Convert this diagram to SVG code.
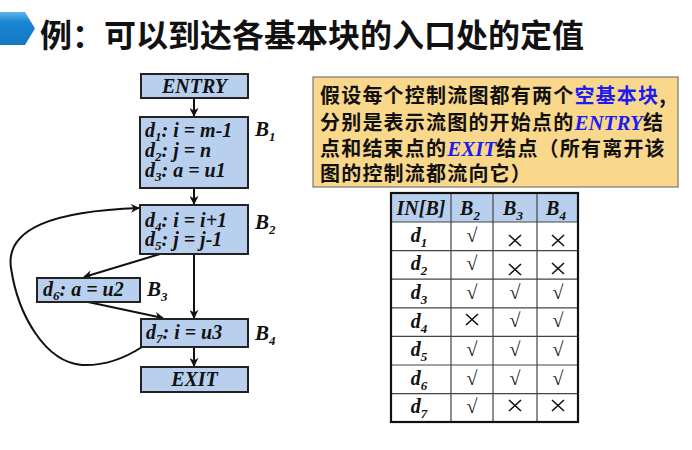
<svg xmlns="http://www.w3.org/2000/svg" width="692" height="450" viewBox="0 0 692 450">
<defs>
<marker id="ah" viewBox="0 0 10 10" refX="9" refY="5" markerWidth="9" markerHeight="9" markerUnits="userSpaceOnUse" orient="auto"><path d="M0,0 L10,5 L0,10 L3,5 Z" fill="#111"/></marker>
<linearGradient id="tg" x1="0" y1="0" x2="0" y2="1"><stop offset="0" stop-color="#5fb4ec"/><stop offset="0.3" stop-color="#1a86d4"/><stop offset="1" stop-color="#1477c2"/></linearGradient>
</defs>
<style>
.box{fill:#b8d0ee;stroke:#222;stroke-width:2}
.ct{font-family:"Liberation Serif",serif;font-weight:bold;font-style:italic;font-size:20px;fill:#111}
.lb{font-family:"Liberation Serif",serif;font-weight:bold;font-style:italic;font-size:21px;fill:#111}
.sb{font-size:13px}
.ed{fill:none;stroke:#111;stroke-width:2;marker-end:url(#ah)}
.cn{font-family:"Noto Sans CJK SC",sans-serif;font-weight:bold;font-size:20px;letter-spacing:1.2px;fill:#111}
.bl{fill:#1c1cf0}
.en{font-family:"Liberation Serif",serif;font-style:italic;font-weight:bold;fill:#1c1cf0;font-size:21px;letter-spacing:0}
.th{font-family:"Liberation Serif",serif;font-weight:bold;font-style:italic;font-size:20px;fill:#111}
.ck{font-family:"Liberation Serif",serif;font-size:20px;fill:#111}
.x{stroke:#111;stroke-width:1.6}
.gl{stroke:#444;stroke-width:1.2}
</style>
<rect width="692" height="450" fill="#fff"/>
<g id="title">
<path d="M0,12 L25,12 L35,28.5 L25,45 L0,45 Z" fill="url(#tg)"/>
<text x="40" y="47" font-family="Noto Sans CJK SC, sans-serif" font-weight="bold" font-size="32" fill="#111">例：可以到达各基本块的入口处的定值</text>
</g>
<g id="connectors">
<line class="ed" x1="194" y1="98" x2="194" y2="116"/>
<line class="ed" x1="194" y1="188" x2="194" y2="204"/>
<line class="ed" x1="194" y1="254" x2="194" y2="318"/>
<line class="ed" x1="160" y1="254" x2="84" y2="277"/>
<line class="ed" x1="88" y1="302" x2="163" y2="318"/>
<line class="ed" x1="194" y1="347" x2="194" y2="366"/>
<path class="ed" d="M142,347 C125,358 105,366 82,365 C45,362 18,315 11,268 C5,228 55,211 139,208"/>
</g>
<g id="entry"><rect class="box" x="141" y="74" width="107" height="24"/><text class="ct" x="194.5" y="93" text-anchor="middle">ENTRY</text></g>
<g id="b1"><rect class="box" x="140" y="117" width="108" height="71"/>
<text class="ct" x="145" y="137">d<tspan class="sb" dy="4">1</tspan><tspan dy="-4">: i = m-1</tspan></text>
<text class="ct" x="145" y="157">d<tspan class="sb" dy="4">2</tspan><tspan dy="-4">: j = n</tspan></text>
<text class="ct" x="145" y="177">d<tspan class="sb" dy="4">3</tspan><tspan dy="-4">: a = u1</tspan></text>
<text class="lb" x="255" y="136">B<tspan class="sb" dy="5">1</tspan></text></g>
<g id="b2"><rect class="box" x="140" y="205" width="108" height="49"/>
<text class="ct" x="145" y="227">d<tspan class="sb" dy="4">4</tspan><tspan dy="-4">: i = i+1</tspan></text>
<text class="ct" x="145" y="246">d<tspan class="sb" dy="4">5</tspan><tspan dy="-4">: j = j-1</tspan></text>
<text class="lb" x="255" y="229">B<tspan class="sb" dy="5">2</tspan></text></g>
<g id="b3"><rect class="box" x="37" y="278" width="103" height="24"/>
<text class="ct" x="43" y="296">d<tspan class="sb" dy="4">6</tspan><tspan dy="-4">: a = u2</tspan></text>
<text class="lb" x="147" y="296">B<tspan class="sb" dy="5">3</tspan></text></g>
<g id="b4"><rect class="box" x="141" y="319" width="107" height="28"/>
<text class="ct" x="146" y="339">d<tspan class="sb" dy="4">7</tspan><tspan dy="-4">: i = u3</tspan></text>
<text class="lb" x="255" y="340">B<tspan class="sb" dy="5">4</tspan></text></g>
<g id="exit"><rect class="box" x="141" y="367" width="107" height="25"/><text class="ct" x="194.5" y="386" text-anchor="middle">EXIT</text></g>
<g id="note">
<rect x="313" y="77" width="365" height="110" fill="#f9d88c" stroke="#777" stroke-width="1.2"/>
<text class="cn" x="320" y="103">假设每个控制流图都有两个<tspan class="bl">空基本块</tspan>,</text>
<text class="cn" x="320" y="130">分别是表示流图的开始点的<tspan class="en">ENTRY</tspan>结</text>
<text class="cn" x="320" y="156">点和结束点的<tspan class="en">EXIT</tspan>结点（所有离开该</text>
<text class="cn" x="320" y="181">图的控制流都流向它）</text>
</g>
<g id="table">
<rect x="391" y="193" width="187" height="29" fill="#b8d0ee"/>
<g class="gl">
<line x1="391" y1="222" x2="578" y2="222"/><line x1="391" y1="250.6" x2="578" y2="250.6"/><line x1="391" y1="279.2" x2="578" y2="279.2"/><line x1="391" y1="307.8" x2="578" y2="307.8"/><line x1="391" y1="336.4" x2="578" y2="336.4"/><line x1="391" y1="365" x2="578" y2="365"/><line x1="391" y1="393.6" x2="578" y2="393.6"/>
<line x1="451" y1="193" x2="451" y2="422"/><line x1="493" y1="193" x2="493" y2="422"/><line x1="537" y1="193" x2="537" y2="422"/>
</g>
<rect x="391" y="193" width="187" height="229" fill="none" stroke="#111" stroke-width="2.2"/>
<text class="th" x="421" y="215" text-anchor="middle">IN[B]</text>
<text class="th" x="470" y="215" text-anchor="middle">B<tspan class="sb" dy="5">2</tspan></text>
<text class="th" x="513" y="215" text-anchor="middle">B<tspan class="sb" dy="5">3</tspan></text>
<text class="th" x="556" y="215" text-anchor="middle">B<tspan class="sb" dy="5">4</tspan></text>
<g class="th" text-anchor="middle">
<text x="419" y="242">d<tspan class="sb" dy="5">1</tspan></text>
<text x="419" y="270">d<tspan class="sb" dy="5">2</tspan></text>
<text x="419" y="299">d<tspan class="sb" dy="5">3</tspan></text>
<text x="419" y="328">d<tspan class="sb" dy="5">4</tspan></text>
<text x="419" y="356">d<tspan class="sb" dy="5">5</tspan></text>
<text x="419" y="385">d<tspan class="sb" dy="5">6</tspan></text>
<text x="419" y="413">d<tspan class="sb" dy="5">7</tspan></text>
</g>
<g class="ck" text-anchor="middle">
<text x="472" y="242">√</text>
<text x="472" y="270">√</text>
<text x="472" y="299">√</text><text x="515" y="299">√</text><text x="558" y="299">√</text>
<text x="515" y="327">√</text><text x="558" y="327">√</text>
<text x="472" y="356">√</text><text x="515" y="356">√</text><text x="558" y="356">√</text>
<text x="472" y="385">√</text><text x="515" y="385">√</text><text x="558" y="385">√</text>
<text x="472" y="413">√</text>
</g>
<g class="x">
<path d="M509,235 L521,246 M521,235 L509,246"/><path d="M552,235 L564,246 M564,235 L552,246"/>
<path d="M509,264 L521,275 M521,264 L509,275"/><path d="M552,263 L564,274 M564,263 L552,274"/>
<path d="M466,314 L478,325 M478,314 L466,325"/>
<path d="M509,400 L521,411 M521,400 L509,411"/><path d="M552,400 L564,411 M564,400 L552,411"/>
</g>
</g>
</svg>
